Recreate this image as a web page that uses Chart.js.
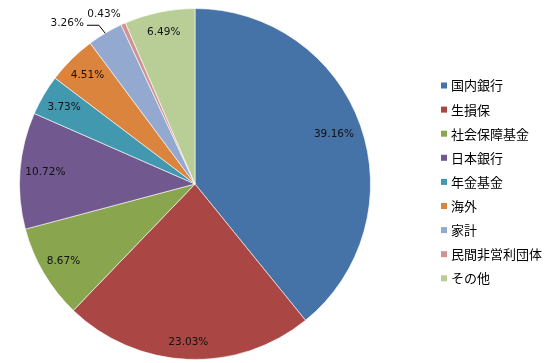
<!DOCTYPE html>
<html>
<head>
<meta charset="utf-8">
<script src="https://cdn.jsdelivr.net/npm/chart.js@4/dist/chart.umd.min.js"></script>
<style>
  html, body { margin: 0; padding: 0; background: #fff; }
  #wrap { width: 550px; height: 363px; }
</style>
</head>
<body>
<div id="wrap"><canvas id="myChart1" width="550" height="363"></canvas></div>
<script>
/*--data--*/
var categories = ["国内銀行", "生損保", "社会保障基金", "日本銀行", "年金基金", "海外", "家計", "民間非営利団体", "その他"];
var shares = [39.16, 23.03, 8.67, 10.72, 3.73, 4.51, 3.26, 0.43, 6.49];
var colors = ["#4572A7", "#AA4643", "#89A54E", "#71588F", "#4198AF", "#DB843D", "#93A9CF", "#D19392", "#B9CD96"];

/*--label placement (radius factor, angle shift in deg, leader line)--*/
var labelPlace = [
  { r: 0.84, a: 0 },
  { r: 0.90, a: 0 },
  { r: 0.87, a: 0 },
  { r: 0.855, a: 0 },
  { r: 0.865, a: 0 },
  { r: 0.87, a: 0 },
  { r: 1.17, a: -7.7, line: true },
  { r: 1.10, a: -4 },
  { r: 0.88, a: 0 }
];

var pieLabels = {
  id: 'pieLabels',
  afterDatasetsDraw: function(chart) {
    var ctx = chart.ctx;
    var meta = chart.getDatasetMeta(0);
    ctx.save();
    ctx.font = '10.5px "DejaVu Sans", sans-serif';
    ctx.fillStyle = '#111';
    ctx.textAlign = 'center';
    ctx.textBaseline = 'middle';
    meta.data.forEach(function(arc, i) {
      var p = labelPlace[i];
      var mid = (arc.startAngle + arc.endAngle) / 2;
      var ang = mid + p.a * Math.PI / 180;
      var rad = arc.outerRadius * p.r;
      var x = arc.x + Math.cos(ang) * rad;
      var y = arc.y + Math.sin(ang) * rad;
      var txt = shares[i].toFixed(2) + '%';
      ctx.fillText(txt, x, y);
      if (p.line) {
        var w = ctx.measureText(txt).width;
        var ex = arc.x + Math.cos(mid) * arc.outerRadius;
        var ey = arc.y + Math.sin(mid) * arc.outerRadius;
        ctx.strokeStyle = '#000';
        ctx.lineWidth = 1;
        ctx.beginPath();
        ctx.moveTo(x + w / 2 + 3, y + 2);
        ctx.lineTo(x + w / 2 + 15, y + 2);
        ctx.lineTo(ex, ey);
        ctx.stroke();
      }
    });
    ctx.restore();
  }
};

var sideLegend = {
  id: 'sideLegend',
  afterDraw: function(chart) {
    var ctx = chart.ctx;
    ctx.save();
    ctx.font = '13px "Noto Sans CJK JP", sans-serif';
    ctx.textBaseline = 'middle';
    ctx.textAlign = 'left';
    categories.forEach(function(name, i) {
      var y = 85.5 + i * 24.1;
      ctx.fillStyle = colors[i];
      ctx.fillRect(441, y - 3, 6, 6);
      ctx.fillStyle = '#000';
      ctx.fillText(name, 451, y);
    });
    ctx.restore();
  }
};

var ctx = document.getElementById("myChart1").getContext('2d');
var myChart1 = new Chart(ctx, {
  type: 'pie',
  plugins: [pieLabels, sideLegend],
  data: {
    labels: categories,
    datasets: [{
      data: shares,
      backgroundColor: colors,
      borderColor: 'rgba(255,255,255,0.6)',
      borderWidth: 1
    }]
  },
  options: {
    responsive: false,
    animation: false,
    layout: { padding: { top: 8, bottom: 3, left: 0, right: 160 } },
    plugins: {
      legend: { display: false },
      tooltip: { enabled: false }
    }
  }
});
</script>
</body>
</html>
